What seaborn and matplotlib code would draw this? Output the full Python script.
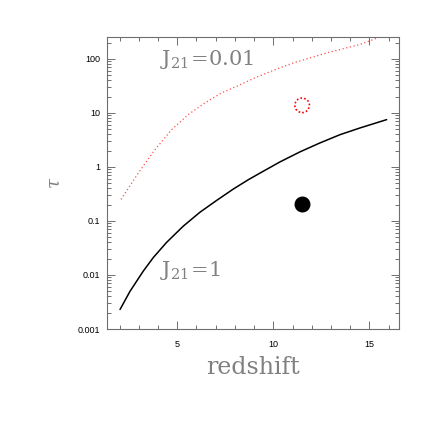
import numpy as np
import pandas as pd
import matplotlib
matplotlib.use("Agg")
import matplotlib.pyplot as plt
import seaborn as sns
from matplotlib.ticker import FixedLocator, FixedFormatter, MultipleLocator, LogLocator, NullFormatter

# curve: J21 = 1
z_j1 = [2.02, 2.54, 3.23, 3.75, 4.44, 5.31, 6.18, 7.05, 7.92, 8.70, 9.31, 10.35, 11.39, 12.43, 13.48, 14.52, 15.9]
tau_j1 = [0.0023, 0.0050, 0.0118, 0.021, 0.040, 0.080, 0.145, 0.24, 0.39, 0.58, 0.77, 1.24, 1.9, 2.78, 3.96, 5.27, 7.5]

# curve for J21 = 0.01
z_j001 = [2.07, 2.97, 3.84, 4.71, 5.57, 6.44, 7.31, 8.18, 9.05, 10.09, 11.04, 12.78, 14.5, 15.5]
tau_j001 = [0.25, 0.77, 2.09, 4.9, 9.3, 15.3, 23.5, 32, 44.7, 63, 84, 129, 184, 250]

# single points
pt_z = [11.5]
pt_filled = [0.21]
pt_open = [13.8]

ytick_vals = [0.001, 0.01, 0.1, 1, 10, 100]
ytick_labels = ["0.001", "0.01", "0.1", "1", "10", "100"]
xtick_vals = [5, 10, 15]

sns.set_style("ticks")
plt.rcParams["font.family"] = ["Liberation Sans", "DejaVu Sans"]
plt.rcParams["mathtext.fontset"] = "dejavuserif"

grey = "#6e6e6e"
txt_grey = "#808080"
fig = plt.figure(figsize=(4.36, 4.36), dpi=100)
ax = fig.add_axes([0.2454, 0.2454, 0.67, 0.67])

df1 = pd.DataFrame({"z": z_j1, "tau": tau_j1})
df2 = pd.DataFrame({"z": z_j001, "tau": tau_j001})
sns.lineplot(data=df1, x="z", y="tau", color="black", lw=1.1, ax=ax, sort=False)
sns.lineplot(data=df2, x="z", y="tau", color="#ff5050", lw=0.9, ls=(0, (1, 2.0)), ax=ax, sort=False)

ax.scatter(pt_z, pt_filled, s=110, color="black", zorder=5)
ax.scatter(pt_z, pt_open, s=110, facecolors="none", edgecolors="red", linewidths=1.2,
           linestyles=(0, (1, 1.3)), zorder=5)

ax.set_yscale("log")
ax.set_xlim(1.34, 16.55)
ax.set_ylim(0.001, 255)

ax.yaxis.set_major_locator(FixedLocator(ytick_vals))
ax.yaxis.set_major_formatter(FixedFormatter(ytick_labels))
ax.yaxis.set_minor_locator(LogLocator(base=10, subs=np.arange(2, 10)))
ax.yaxis.set_minor_formatter(NullFormatter())
ax.xaxis.set_major_locator(FixedLocator(xtick_vals))
ax.xaxis.set_minor_locator(MultipleLocator(1))

ax.tick_params(which="both", direction="in", top=True, right=True, color=grey,
               labelsize=6.5, labelcolor="black", width=0.7)
ax.tick_params(which="major", length=6, pad=5)
ax.tick_params(which="minor", length=3)
ax.tick_params(axis="x", which="major", pad=8)
for s in ax.spines.values():
    s.set_color(grey)
    s.set_linewidth(0.8)

ax.set_xlabel("redshift", family="DejaVu Serif", fontsize=17, color=txt_grey, labelpad=5)
ax.set_ylabel(r"$\tau$", fontsize=13, color=txt_grey, labelpad=10)

ax.text(4.1, 78, r"$\mathrm{J}_{21}\!=\!0.01$", fontsize=15, color=txt_grey, va="baseline")
ax.text(4.1, 0.0094, r"$\mathrm{J}_{21}\!=\!1$", fontsize=15, color=txt_grey, va="baseline")

fig.savefig("out.png", dpi=100)
